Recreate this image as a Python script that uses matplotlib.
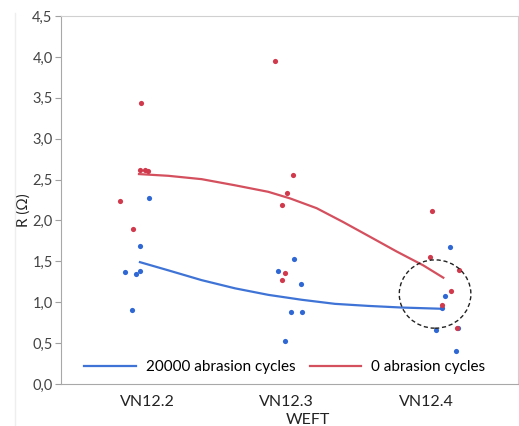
import numpy as np
import matplotlib
matplotlib.use("Agg")
import matplotlib.pyplot as plt
from matplotlib.patches import Ellipse

plt.rcParams['font.family'] = ['Lato', 'DejaVu Sans']

categories = ["VN12.2", "VN12.3", "VN12.4"]

# 0 abrasion cycles (red): category index + jitter, value
red_x = [-0.046, -0.052, -0.012, 0.009, -0.194, -0.098,
         0.920, 1.049, 1.004, 0.968, 0.989, 0.968,
         2.043, 2.029, 2.240, 2.180, 2.113, 2.224]
red_y = [3.44, 2.62, 2.62, 2.61, 2.24, 1.90,
         3.95, 2.56, 2.33, 2.19, 1.36, 1.27,
         2.11, 1.55, 1.39, 1.14, 0.96, 0.69]

# 20000 abrasion cycles (blue)
blue_x = [0.012, -0.052, -0.160, -0.081, -0.050, -0.105,
          1.056, 0.941, 1.104, 1.030, 1.111, 0.989,
          2.172, 2.138, 2.072, 2.215, 2.113, 2.230]
blue_y = [2.27, 1.69, 1.37, 1.35, 1.38, 0.91,
          1.53, 1.38, 1.22, 0.88, 0.88, 0.52,
          1.68, 1.07, 0.66, 0.40, 0.93, 0.69]

# fit lines
red_fit_x = [-0.057, 0.153, 0.392, 0.631, 0.870, 1.025, 1.216, 1.407,
             1.599, 1.790, 1.981, 2.124]
red_fit_y = [2.567, 2.546, 2.505, 2.43, 2.35, 2.27, 2.15, 1.98,
             1.80, 1.62, 1.45, 1.30]
blue_fit_x = [-0.050, 0.153, 0.392, 0.631, 0.870, 1.109, 1.348, 1.586,
              1.826, 2.113]
blue_fit_y = [1.49, 1.39, 1.27, 1.17, 1.09, 1.03, 0.98, 0.955, 0.935, 0.92]

red_pt = '#d13a4c'
blue_pt = '#2f68d4'
red_line = '#d4505e'
blue_line = '#3f74d6'

fig = plt.figure(figsize=(5.19, 4.26), dpi=100)
ax = fig.add_axes([0.1175, 0.0986, 0.8805, 0.8638])

ax.scatter(blue_x, blue_y, s=14, color=blue_pt, linewidths=0, zorder=3)
ax.scatter(red_x, red_y, s=14, color=red_pt, linewidths=0, zorder=3)

l1, = ax.plot(blue_fit_x, blue_fit_y, color=blue_line, lw=1.6, zorder=2)
l2, = ax.plot(red_fit_x, red_fit_y, color=red_line, lw=1.6, zorder=2)

ax.add_patch(Ellipse((2.065, 1.10), 0.513, 0.835, fill=False,
                     ls=(0, (3, 2)), lw=1.0, ec='#222222', zorder=4))

ax.set_xlim(-0.616, 2.659)
ax.set_ylim(0, 4.5)
ax.set_xticks(range(len(categories)))
ax.set_xticklabels(categories)
ax.set_yticks(np.arange(0, 4.51, 0.5))
ax.set_yticklabels([f"{v:.1f}".replace('.', ',') for v in np.arange(0, 4.51, 0.5)])
ax.tick_params(axis='x', length=0, pad=8, labelsize=11.5, colors='#222222')
ax.tick_params(axis='y', length=4, width=0.8, color='#a0a0a0', pad=2,
               labelsize=10.5, labelcolor='#444444')

for s in ['left', 'bottom']:
    ax.spines[s].set_color('#a8a8a8')
for s in ['top', 'right']:
    ax.spines[s].set_color('#d0d0d0')

ax.set_ylabel("R (Ω)", fontsize=11, color='#222222')
ax.yaxis.set_label_coords(-0.066, 0.473)
ax.set_xlabel("WEFT", fontsize=11.5, color='#222222')
ax.xaxis.set_label_coords(0.54, -0.08)

ax.legend([l1, l2], ["20000 abrasion cycles", "0 abrasion cycles"],
          ncol=2, frameon=False, loc='lower center', bbox_to_anchor=(0.49, -0.01),
          fontsize=11, handlelength=3.4, handletextpad=0.65, columnspacing=0.9)

# faint border line at the left of the picture
fig.add_artist(plt.Line2D([15 / 519, 15 / 519], [0, 0.97], color='#eeeeee', lw=1))

fig.savefig("out.png", dpi=100)
